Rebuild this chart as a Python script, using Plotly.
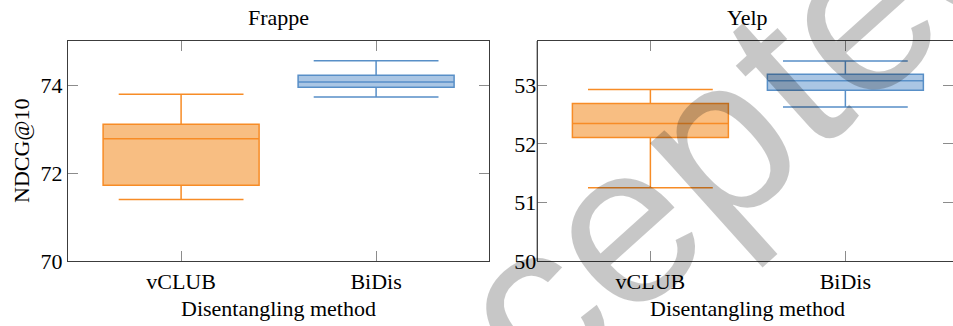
import plotly.graph_objects as go

# Box statistics of NDCG@10 per disentangling method
methods = ["vCLUB", "BiDis"]

frappe_low = [71.40, 73.73]
frappe_q1 = [71.72, 73.95]
frappe_med = [72.78, 74.07]
frappe_q3 = [73.11, 74.22]
frappe_high = [73.79, 74.55]

yelp_low = [51.25, 52.63]
yelp_q1 = [52.11, 52.92]
yelp_med = [52.35, 53.08]
yelp_q3 = [52.69, 53.19]
yelp_high = [52.93, 53.42]

frappe_ticks = [70, 72, 74]
yelp_ticks = [50, 51, 52, 53]

line_colors = ["rgb(247,140,38)", "rgb(88,143,199)"]
fill_colors = ["rgb(248,190,130)", "rgb(170,198,228)"]

W, H = 953, 326
FONT = "Liberation Serif"
FRAME = "rgb(60,60,60)"

fig = go.Figure()

panels = [
    ("x", "y", frappe_low, frappe_q1, frappe_med, frappe_q3, frappe_high),
    ("x2", "y2", yelp_low, yelp_q1, yelp_med, yelp_q3, yelp_high),
]
for xa, ya, lo, q1, med, q3, hi in panels:
    for i, m in enumerate(methods):
        fig.add_trace(go.Box(
            x=[m], q1=[q1[i]], median=[med[i]], q3=[q3[i]],
            lowerfence=[lo[i]], upperfence=[hi[i]],
            boxpoints=False, width=0.8, whiskerwidth=0.8,
            line=dict(color=line_colors[i], width=1.5),
            fillcolor=fill_colors[i], showlegend=False,
            xaxis=xa, yaxis=ya, hoverinfo="skip",
        ))

def px(v):
    return v / W

def py(v):
    return 1 - v / H

axis_common = dict(
    showline=True, linecolor=FRAME, linewidth=1.3,
    mirror="ticks", ticks="inside", ticklen=10, tickcolor="rgb(140,140,140)",
    tickwidth=1, showgrid=False, zeroline=False, automargin=False,
    tickfont=dict(family=FONT, size=22, color="black"),
)

fig.update_layout(
    width=W, height=H, autosize=False,
    margin=dict(l=0, r=0, t=0, b=0, pad=0),
    paper_bgcolor="white", plot_bgcolor="white",
    xaxis=dict(domain=[px(68), px(489)], range=[-0.58, 1.579], type="category",
               anchor="y", **axis_common),
    yaxis=dict(domain=[py(261), py(41)], range=[70, 75], tickvals=frappe_ticks,
               anchor="x", **axis_common),
    xaxis2=dict(domain=[px(537.3), 1.0], range=[-0.58, 1.552], type="category",
                anchor="y2", **axis_common),
    yaxis2=dict(domain=[py(261), py(41)], range=[50, 53.76], tickvals=yelp_ticks,
                anchor="x2", **{**axis_common, "showline": False}),
)

# left frame edge of the Yelp panel (its right edge runs past the page)
fig.add_shape(type="line", xref="x2 domain", yref="y2 domain",
              x0=0, x1=0, y0=0, y1=1, line=dict(color=FRAME, width=1.3))

annos = [
    dict(text="Frappe", x=px(278.5), y=py(17)),
    dict(text="Yelp", x=px(747.5), y=py(17)),
    dict(text="Disentangling method", x=px(278.5), y=py(308)),
    dict(text="Disentangling method", x=px(747.5), y=py(308)),
    dict(text="NDCG@10", x=px(21), y=py(151), textangle=-90),
]
for a in annos:
    fig.add_annotation(xref="paper", yref="paper", showarrow=False,
                       xanchor="center", yanchor="middle",
                       font=dict(family=FONT, size=22, color="black"), **a)

# diagonal stamp across the right panel
fig.add_annotation(text="Accepted", xref="paper", yref="paper",
                   x=px(643), y=py(205), showarrow=False,
                   xanchor="center", yanchor="middle", textangle=-42,
                   font=dict(family="Liberation Sans", size=228,
                             color="rgba(0,0,0,0.22)"))

# clip the oversized stamp to the figure so the page keeps its size
clip_js = (
    "var st=document.createElement('style');"
    "st.textContent='html,body{margin:0;overflow:hidden;}"
    ".plotly-graph-div,.svg-container,.main-svg{overflow:hidden !important;}';"
    "document.head.appendChild(st);"
    "var gd=document.getElementById('{plot_id}');"
    "gd.style.overflow='hidden';"
)

fig.write_html("out.html", post_script=clip_js)
